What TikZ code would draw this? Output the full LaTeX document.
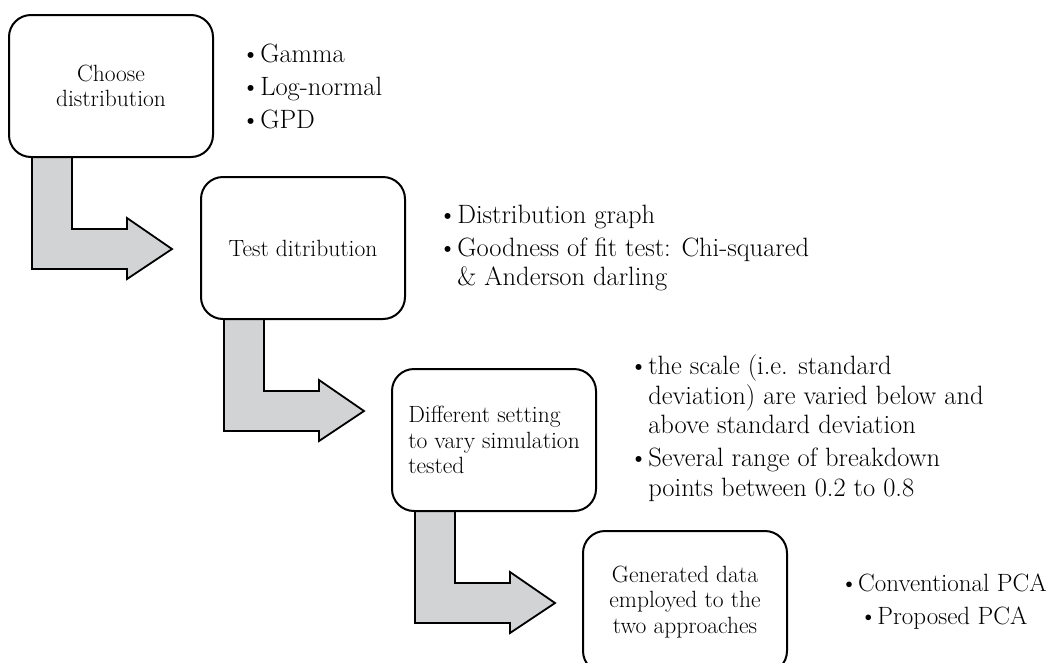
\documentclass[tikz,border=0pt]{standalone}
\usetikzlibrary{positioning,calc,backgrounds}
\definecolor{arrowgray}{RGB}{209,211,212}
\tikzset{
  stage/.style={draw, line width=2pt, rounded corners=22pt, fill=white,
    minimum width=204pt, minimum height=142pt, inner sep=0pt,
    font=\fontsize{23.5}{25.5}\selectfont, align=center},
  notes/.style={inner sep=0pt, font=\fontsize{26.5}{29.5}\selectfont, align=left},
  bigarrow/.style={draw, line width=1.8pt, fill=arrowgray, line join=miter}
}

\begin{document}
\begin{tikzpicture}[x=1pt,y=-1pt]
\useasboundingbox (0,0) rectangle (1047,662);
\node[stage] (b1) at (111,86) {Choose\\distribution};
  \node[stage, below right=18pt and -14pt of b1] (b2) {Test ditribution};
  \node[stage, below right=48pt and -15pt of b2, align=left] (b3) {Different setting\\to vary simulation\\tested};
  \node[stage, below right=18pt and -15pt of b3] (b4) {Generated data\\employed to the\\two approaches};
  \node[notes, right=27pt of b1] (n1) {\textbullet Gamma\\[3.5pt]\textbullet Log-normal\\[3.5pt]\textbullet GPD};
  \node[notes, right=32pt of b2] (n2) {\textbullet Distribution graph\\[3.5pt]\textbullet Goodness of fit test: Chi-squared\\\hphantom{\textbullet}\& Anderson darling};
  \node[notes, right=32pt of b3, yshift=12pt] (n3) {\textbullet the scale (i.e. standard\\\hphantom{\textbullet}deviation) are varied below and\\\hphantom{\textbullet}above standard deviation\\[3.5pt]\textbullet Several range of breakdown\\\hphantom{\textbullet}points between 0.2 to 0.8};
  \node[notes, right=52pt of b4, align=center, font=\fontsize{25}{29.5}\selectfont] (n4) {\textbullet Conventional PCA\\[3.5pt]\textbullet Proposed PCA};
  % bent block arrows between the stages
  \begin{scope}[on background layer]
  \foreach \src in {b1,b2,b3}
    \draw[bigarrow] ($(\src.south west)+(24,-4)$) -- ++(0,115) -- ++(95,0) -- ++(0,10)
      -- ++(45,-30) -- ++(-45,-31) -- ++(0,11) -- ++(-55,0) -- ++(0,-75) -- cycle;
  \end{scope}
 \end{tikzpicture}
\end{document}
